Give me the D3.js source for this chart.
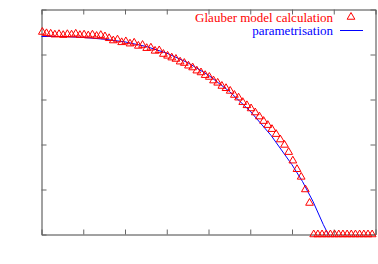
<!DOCTYPE html>
<html>
<head>
<meta charset="utf-8">
<script src="https://cdn.jsdelivr.net/npm/d3@7"></script>
<style>
  body { margin: 0; background: #fff; }
  svg { display: block; }
  .legend { font-family: "Liberation Serif", "DejaVu Serif", serif; font-size: 13px; }
</style>
</head>
<body>
<div id="chart"></div>
<script>
// Glauber model calculation: one value per bin, bins 0.1 wide starting at 0.02
const glauberStart = 0.02;
const glauberStep = 0.1;
const glauberValues = [
  4.50, 4.47, 4.46, 4.44, 4.45, 4.43, 4.45, 4.44, 4.46, 4.43,
  4.44, 4.42, 4.44, 4.41, 4.43, 4.40, 4.36, 4.31, 4.33, 4.27,
  4.29, 4.24, 4.26, 4.19, 4.21, 4.14, 4.15, 4.08, 4.09, 4.01,
  3.97, 3.93, 3.90, 3.84, 3.81, 3.75, 3.71, 3.64, 3.60, 3.54,
  3.50, 3.42, 3.37, 3.30, 3.25, 3.19, 3.10, 3.04, 2.94, 2.87,
  2.80, 2.71, 2.62, 2.52, 2.43, 2.34, 2.23, 2.11, 1.99, 1.83,
  1.64, 1.45, 1.28, 1.00, 0.70, 0, 0, 0, 0, 0,
  0, 0, 0, 0, 0, 0, 0, 0, 0, 0
];

// parametrisation curve
const paramX = [0, 0.5, 1, 1.5, 2, 2.5, 3, 3.5, 4, 4.5, 5, 5.5, 6, 6.25, 6.5, 6.75, 6.87];
const paramY = [4.40, 4.40, 4.38, 4.34, 4.28, 4.18, 4.03, 3.82, 3.54, 3.18, 2.74, 2.20, 1.55, 1.18, 0.74, 0.22, 0];

const xTicks = [0, 1, 2, 3, 4, 5, 6, 7, 8];
const yTicks = [0, 1, 2, 3, 4, 5];

const width = 378;
const height = 264;
const margin = { top: 9.5, right: 2.5, bottom: 29.5, left: 41.5 };

const svg = d3.select('#chart')
  .append('svg')
  .attr('width', width)
  .attr('height', height);

const x = d3.scaleLinear().domain([0, 8]).range([margin.left, width - margin.right]);
const y = d3.scaleLinear().domain([0, 5]).range([height - margin.bottom, margin.top]);

// axes: ticks inward, no labels
const axisColor = '#444';
const tick = 5;

svg.append('g')
  .attr('transform', `translate(0,${y(0)})`)
  .call(d3.axisBottom(x).tickValues(xTicks).tickFormat('').tickSizeInner(-tick).tickSizeOuter(0));
svg.append('g')
  .attr('transform', `translate(0,${y(5)})`)
  .call(d3.axisTop(x).tickValues(xTicks).tickFormat('').tickSizeInner(-tick).tickSizeOuter(0));
svg.append('g')
  .attr('transform', `translate(${x(0)},0)`)
  .call(d3.axisLeft(y).tickValues(yTicks).tickFormat('').tickSizeInner(-tick).tickSizeOuter(0));
svg.append('g')
  .attr('transform', `translate(${x(8)},0)`)
  .call(d3.axisRight(y).tickValues(yTicks).tickFormat('').tickSizeInner(-tick).tickSizeOuter(0));

svg.selectAll('.domain').attr('stroke', axisColor);
svg.selectAll('.tick line').attr('stroke', '#666');

// parametrisation line
const line = d3.line()
  .x((d, i) => x(paramX[i]))
  .y(d => y(d));

svg.append('path')
  .datum(paramY)
  .attr('fill', 'none')
  .attr('stroke', '#0000ff')
  .attr('stroke-width', 1)
  .attr('d', line);

// Glauber points as open triangles
const tri = d3.symbol().type(d3.symbolTriangle).size(26);

svg.append('g')
  .selectAll('path')
  .data(glauberValues)
  .enter()
  .append('path')
  .attr('d', tri)
  .attr('transform', (d, i) => `translate(${x(glauberStart + i * glauberStep)},${y(d)})`)
  .attr('fill', 'none')
  .attr('stroke', '#ff0000')
  .attr('stroke-width', 1);

// legend
const legend = svg.append('g').attr('class', 'legend');
legend.append('text')
  .attr('x', 333)
  .attr('y', 21.5)
  .attr('text-anchor', 'end')
  .attr('fill', '#ff0000')
  .text('Glauber model calculation');
legend.append('path')
  .attr('d', tri)
  .attr('transform', 'translate(351,17)')
  .attr('fill', 'none')
  .attr('stroke', '#ff0000');
legend.append('text')
  .attr('x', 333)
  .attr('y', 35)
  .attr('text-anchor', 'end')
  .attr('fill', '#0000ff')
  .text('parametrisation');
legend.append('line')
  .attr('x1', 340)
  .attr('x2', 363)
  .attr('y1', 30.5)
  .attr('y2', 30.5)
  .attr('stroke', '#0000ff');
</script>
</body>
</html>
